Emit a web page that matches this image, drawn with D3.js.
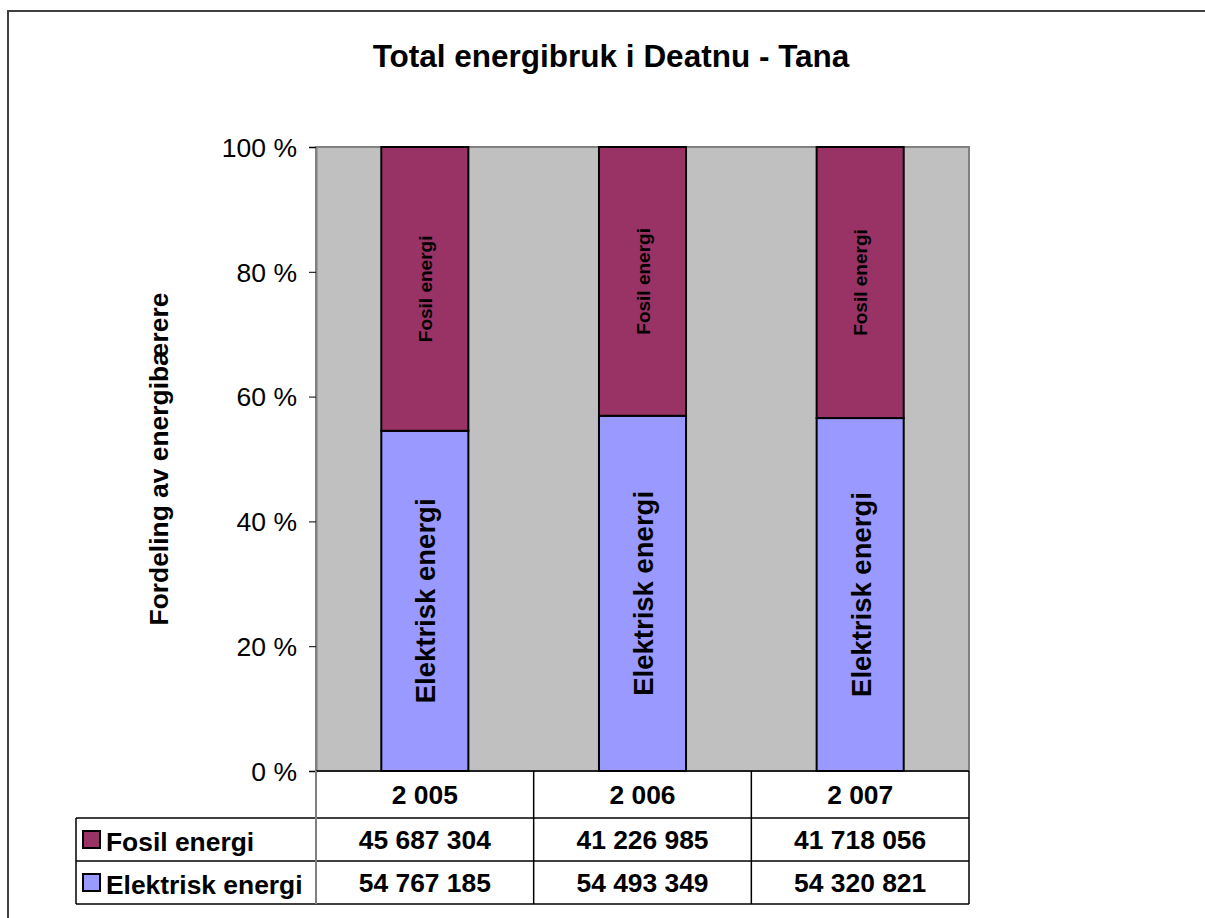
<!DOCTYPE html>
<html>
<head>
<meta charset="utf-8">
<script src="https://cdn.jsdelivr.net/npm/d3@7"></script>
<style>
  html, body { margin: 0; padding: 0; background: #fff; overflow: hidden; }
  svg { display: block; font-family: Arial, "Liberation Sans", sans-serif; }
</style>
</head>
<body>
<svg id="chart" width="1205" height="918"></svg>
<script>
// Energy use in Deatnu - Tana, split by energy carrier
const years = ["2 005", "2 006", "2 007"];
const seriesNames = ["Elektrisk energi", "Fosil energi"];
const elektrisk = [54767185, 54493349, 54320821];
const fosil = [45687304, 41226985, 41718056];
const yTicks = [0, 0.2, 0.4, 0.6, 0.8, 1.0];
const colors = { "Fosil energi": "#993366", "Elektrisk energi": "#9999FF" };

const rows = years.map((y, i) => ({ year: y, "Elektrisk energi": elektrisk[i], "Fosil energi": fosil[i] }));

const svg = d3.select("#chart");
const fmt = v => d3.format(",")(v).replace(/,/g, " ");

// outer chart frame (runs off the right and bottom of the page)
svg.append("path").attr("d", "M8,918 L8,11 L1205,11")
  .attr("fill", "none").attr("stroke", "#404040").attr("stroke-width", 2);

const plot = { left: 316, right: 969, top: 147, bottom: 771 };

const x = d3.scaleBand().domain(years).range([plot.left, plot.right]).paddingInner(0).paddingOuter(0);
const y = d3.scaleLinear().domain([0, 1]).range([plot.bottom, plot.top]);

// plot background
svg.append("rect").attr("x", plot.left).attr("y", plot.top)
  .attr("width", plot.right - plot.left).attr("height", plot.bottom - plot.top)
  .attr("fill", "#C0C0C0").attr("stroke", "#808080").attr("stroke-width", 2);

// stacked percentages
const stack = d3.stack().keys(seriesNames).offset(d3.stackOffsetExpand);
const layers = stack(rows);
const barW = x.bandwidth() * 0.4;

const g = svg.append("g");
layers.forEach(layer => {
  const name = layer.key;
  layer.forEach((d, i) => {
    const cx = x(years[i]) + x.bandwidth() / 2;
    const y0 = y(d[0]), y1 = y(d[1]);
    g.append("rect")
      .attr("x", cx - barW / 2).attr("y", y1)
      .attr("width", barW).attr("height", y0 - y1)
      .attr("fill", colors[name]).attr("stroke", "#000").attr("stroke-width", 2);
    const isFosil = name === "Fosil energi";
    g.append("text")
      .attr("transform", `translate(${cx + (isFosil ? 7 : 10.5)},${(y0 + y1) / 2}) rotate(-90)`)
      .attr("text-anchor", "middle")
      .attr("font-weight", "bold")
      .attr("font-size", isFosil ? 19 : 27.5)
      .attr("fill", "#000")
      .text(name);
  });
});

// y axis
const yAxis = d3.axisLeft(y).tickValues(yTicks).tickSize(7).tickPadding(12)
  .tickFormat(v => Math.round(v * 100) + " %");
const ya = svg.append("g").attr("transform", `translate(${plot.left},0)`).call(yAxis);
ya.select(".domain").attr("stroke", "#808080").attr("stroke-width", 2);
ya.selectAll(".tick line").attr("stroke", "#000");
ya.selectAll(".tick text").attr("font-size", 26.5).attr("fill", "#000")
  .attr("font-family", "Arial, 'Liberation Sans', sans-serif").attr("dy", "0.35em");

// axis title
svg.append("text")
  .attr("transform", `translate(168,${(plot.top + plot.bottom) / 2}) rotate(-90)`)
  .attr("text-anchor", "middle").attr("font-weight", "bold").attr("font-size", 26.4)
  .text("Fordeling av energibærere");

// chart title
svg.append("text").attr("x", 611).attr("y", 67).attr("text-anchor", "middle")
  .attr("font-weight", "bold").attr("font-size", 31.5).text("Total energibruk i Deatnu - Tana");

// data table
const tbl = svg.append("g");
const rowY = [771, 818, 861, 904];
const legendLeft = 76;
const lineAttrs = s => s.attr("stroke", "#000").attr("stroke-width", 1.5);

// horizontal lines
tbl.append("line").attr("x1", plot.left).attr("x2", plot.right).attr("y1", rowY[0]).attr("y2", rowY[0]).call(lineAttrs);
[rowY[1], rowY[2], rowY[3]].forEach(yy =>
  tbl.append("line").attr("x1", legendLeft).attr("x2", plot.right).attr("y1", yy).attr("y2", yy).call(lineAttrs));
// vertical lines
years.forEach(yr => {
  const xr = x(yr) + x.bandwidth();
  tbl.append("line").attr("x1", xr).attr("x2", xr).attr("y1", rowY[0]).attr("y2", rowY[3]).call(lineAttrs);
});
tbl.append("line").attr("x1", plot.left).attr("x2", plot.left).attr("y1", rowY[0]).attr("y2", rowY[3])
  .attr("stroke", "#808080").attr("stroke-width", 2);
tbl.append("line").attr("x1", legendLeft).attr("x2", legendLeft).attr("y1", rowY[1]).attr("y2", rowY[3]).call(lineAttrs);

// header
years.forEach(yr => {
  tbl.append("text").attr("x", x(yr) + x.bandwidth() / 2).attr("y", (rowY[0] + rowY[1]) / 2 + 9.5)
    .attr("text-anchor", "middle").attr("font-weight", "bold").attr("font-size", 26.4).text(yr);
});

// value rows
const tableSeries = [["Fosil energi", fosil], ["Elektrisk energi", elektrisk]];
tableSeries.forEach(([name, vals], r) => {
  const cy = (rowY[r + 1] + rowY[r + 2]) / 2;
  tbl.append("rect").attr("x", 83).attr("y", cy - 8.5).attr("width", 17).attr("height", 17)
    .attr("fill", colors[name]).attr("stroke", "#000").attr("stroke-width", 2);
  tbl.append("text").attr("x", 106).attr("y", cy + 11).attr("font-weight", "bold").attr("font-size", 26.4).text(name);
  vals.forEach((v, i) => {
    tbl.append("text").attr("x", x(years[i]) + x.bandwidth() / 2).attr("y", cy + 9.5)
      .attr("text-anchor", "middle").attr("font-weight", "bold").attr("font-size", 26.4).text(fmt(v));
  });
});
</script>
</body>
</html>
